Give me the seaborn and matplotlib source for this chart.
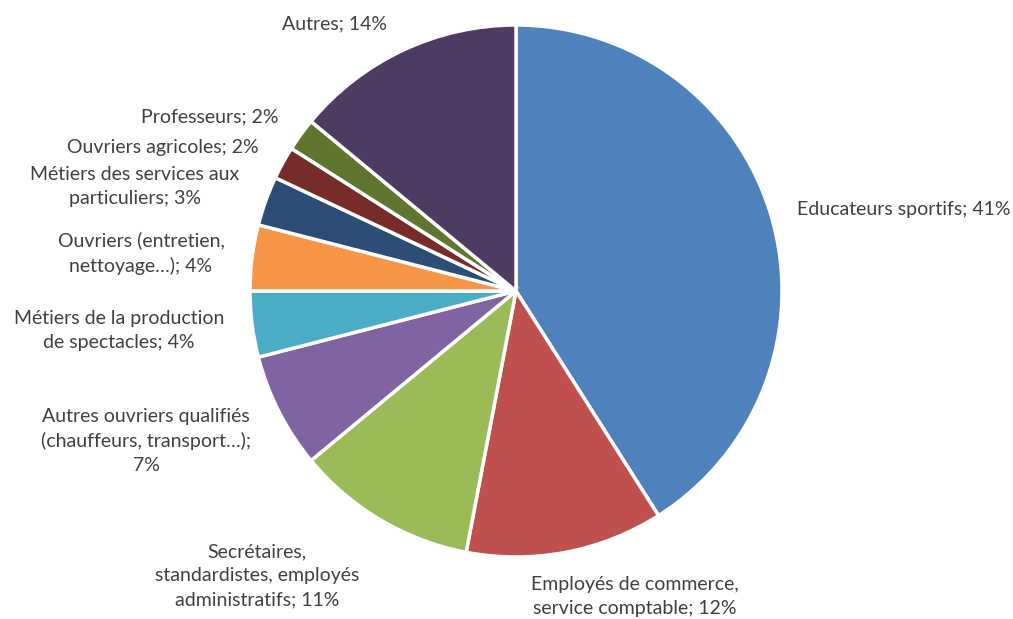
import matplotlib
matplotlib.use("Agg")
import matplotlib.pyplot as plt
import seaborn as sns

# Data
categories = [
    "Educateurs sportifs",
    "Employés de commerce,\nservice comptable",
    "Secrétaires,\nstandardistes, employés\nadministratifs",
    "Autres ouvriers qualifiés\n(chauffeurs, transport…);\n",
    "Métiers de la production\nde spectacles",
    "Ouvriers (entretien,\nnettoyage…)",
    "Métiers des services aux\nparticuliers",
    "Ouvriers agricoles",
    "Professeurs",
    "Autres",
]
shares = [41, 12, 11, 7, 4, 4, 3, 2, 2, 14]
slice_colors = ["#4F81BD", "#C0504D", "#9BBB59", "#8064A2", "#4BACC6",
                "#F79646", "#2C4D75", "#772C2A", "#5F7530", "#4D3B62"]

# label placement (in pie-radius units, relative to the centre)
label_pos = [(1.457, 0.305), (0.447, -1.147), (-0.974, -1.071), (-1.391, -0.564),
             (-1.492, -0.150), (-1.410, 0.143), (-1.432, 0.391), (-1.327, 0.538),
             (-1.150, 0.654), (-0.684, 1.004)]

sns.set_theme(style="white")
plt.rcParams["font.family"] = ["Lato", "DejaVu Sans"]

dpi = 100
fig = plt.figure(figsize=(1013 / dpi, 619 / dpi), dpi=dpi)
ax = fig.add_axes([(516 - 266) / 1013, (619 - 291 - 266) / 619, 532 / 1013, 532 / 619])

palette = sns.color_palette(slice_colors)
ax.pie(shares, colors=palette, startangle=90, counterclock=False,
       wedgeprops=dict(edgecolor="white", linewidth=2.5))
ax.set_xlim(-1, 1)
ax.set_ylim(-1, 1)
ax.set_aspect("equal")
ax.axis("off")

for cat, val, (lx, ly) in zip(categories, shares, label_pos):
    if cat.endswith("\n"):
        txt = f"{cat}{val}%"
    else:
        txt = f"{cat}; {val}%"
    ax.text(lx, ly, txt, ha="center", va="center", fontsize=14,
            color="#404040", linespacing=1.5, multialignment="center")

fig.savefig("out.png", dpi=dpi, facecolor="white")
